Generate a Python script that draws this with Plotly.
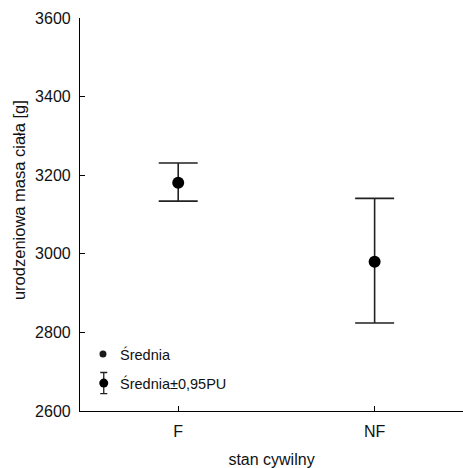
import plotly.graph_objects as go

# Mean birth weight by marital status with ±0.95 SE bars
categories = ["F", "NF"]
means = [3181, 2980]
upper = [3231, 3141]
lower = [3134, 2824]

y_ticks = [2600, 2800, 3000, 3200, 3400, 3600]

err_plus = [u - m for u, m in zip(upper, means)]
err_minus = [m - l for m, l in zip(means, lower)]

FONT = "Liberation Sans, Arial, sans-serif"

fig = go.Figure()

fig.add_trace(go.Scatter(
    x=[0, 1], y=means,
    mode="markers",
    marker=dict(size=12, color="black"),
    error_y=dict(type="data", symmetric=False, array=err_plus, arrayminus=err_minus,
                 color="#222222", thickness=1.6, width=19.5),
    showlegend=False, xaxis="x", yaxis="y",
))

# Key glyphs drawn on an overlay axis spanning the plot area
fig.add_trace(go.Scatter(
    x=[0.06], y=[0.145], mode="markers",
    marker=dict(size=7, color="#1a1a1a"),
    showlegend=False, xaxis="x2", yaxis="y2", hoverinfo="skip",
))
fig.add_trace(go.Scatter(
    x=[0.062], y=[0.071], mode="markers",
    marker=dict(size=9, color="black"),
    error_y=dict(type="constant", value=0.027, color="#222222", thickness=1.3, width=3.5),
    showlegend=False, xaxis="x2", yaxis="y2", hoverinfo="skip",
))

fig.add_annotation(x=0.098, y=0.143, xref="x2", yref="y2", text="Średnia",
                   showarrow=False, xanchor="left", yanchor="middle",
                   font=dict(family=FONT, size=14.5, color="#111111"))
fig.add_annotation(x=0.098, y=0.069, xref="x2", yref="y2", text="Średnia±0,95PU",
                   showarrow=False, xanchor="left", yanchor="middle",
                   font=dict(family=FONT, size=14.5, color="#111111"))

# Vertical axis title
fig.add_annotation(x=-0.159, y=0.537, xref="paper", yref="paper",
                   text="urodzeniowa masa ciała [g]", textangle=-90,
                   showarrow=False, xanchor="center", yanchor="middle",
                   font=dict(family=FONT, size=16.5, color="#111111"))

fig.update_layout(
    width=463, height=468,
    margin=dict(l=80, r=0, t=18, b=57),
    plot_bgcolor="white", paper_bgcolor="white",
    font=dict(family=FONT, size=16, color="#111111"),
    xaxis=dict(
        range=[-0.5, 1.45],
        tickmode="array", tickvals=[0, 1], ticktext=categories,
        showline=True, linecolor="black", linewidth=1.2,
        ticks="inside", ticklen=5, tickcolor="black",
        showgrid=False, zeroline=False,
        ticklabelstandoff=6,
        title=dict(text="stan cywilny", font=dict(size=16), standoff=14),
        tickfont=dict(size=16),
    ),
    yaxis=dict(
        range=[2600, 3600],
        tickmode="array", tickvals=y_ticks,
        showline=True, linecolor="black", linewidth=1.2,
        ticks="inside", ticklen=5, tickcolor="black",
        showgrid=False, zeroline=False,
        ticklabelstandoff=5,
        tickfont=dict(size=16),
    ),
    xaxis2=dict(range=[0, 1], overlaying="x", visible=False, fixedrange=True),
    yaxis2=dict(range=[0, 1], overlaying="y", visible=False, fixedrange=True),
)

fig.write_html("out.html")
